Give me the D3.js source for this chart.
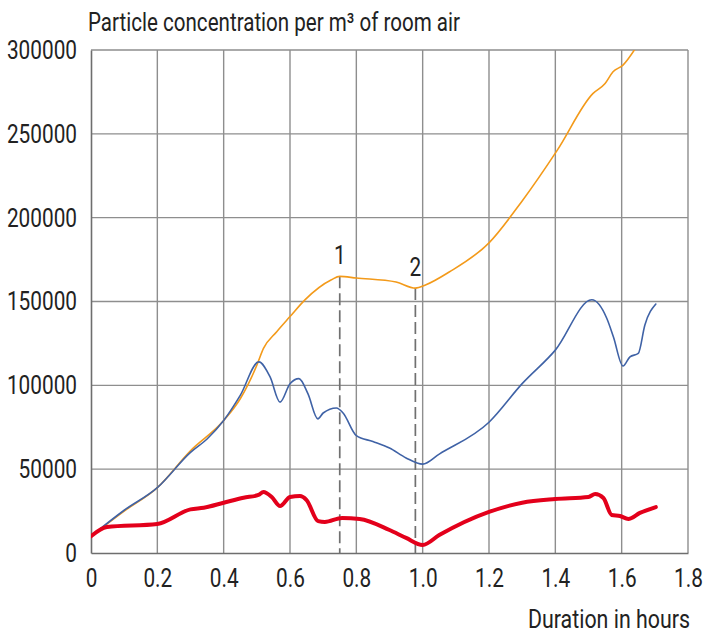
<!DOCTYPE html>
<html>
<head>
<meta charset="utf-8">
<script src="https://cdn.jsdelivr.net/npm/d3@7"></script>
<style>
  body { margin: 0; background: #fff; }
  svg text { font-family: Roboto, "Liberation Sans", sans-serif; fill: #222; }
</style>
</head>
<body>
<div id="chart"></div>
<script>
// Series: [hours, particles per m3]
const orangeSeries = [
  [0, 10000], [0.1, 25000], [0.2, 39000], [0.3, 61000], [0.4, 79000], [0.45, 92000],
  [0.5, 112000], [0.52, 122000], [0.56, 132000], [0.6, 141000], [0.645, 151000],
  [0.725, 163000], [0.75, 165000], [0.8, 164000], [0.92, 161600], [0.978, 158000],
  [1.01, 160000], [1.08, 167600], [1.2, 185000], [1.3, 210000], [1.405, 240000],
  [1.513, 274000], [1.55, 280000], [1.574, 287000], [1.604, 291000], [1.64, 300500]
];
const blueSeries = [
  [0, 10000], [0.1, 25500], [0.2, 39000], [0.3, 60000], [0.35, 68000], [0.4, 79000],
  [0.45, 94000], [0.506, 114000], [0.54, 105000], [0.57, 90000], [0.6, 101000],
  [0.627, 104000], [0.654, 95000], [0.684, 80000], [0.7, 83500], [0.74, 86500],
  [0.76, 83500], [0.8, 70000], [0.85, 66500], [0.9, 62600], [0.95, 56700], [1.0, 53000],
  [1.05, 59000], [1.2, 78000], [1.3, 101000], [1.4, 121000], [1.51, 151000],
  [1.555, 140000], [1.575, 129000], [1.604, 111500], [1.625, 117000], [1.65, 119000],
  [1.67, 136000], [1.703, 148500]
];
const redSeries = [
  [0, 10000], [0.048, 15500], [0.2, 17300], [0.3, 26000], [0.34, 27000], [0.4, 30000],
  [0.46, 33000], [0.505, 34600], [0.52, 36400], [0.545, 33400], [0.57, 28000],
  [0.6, 33400], [0.63, 34000], [0.65, 31600], [0.685, 19000], [0.705, 18500],
  [0.757, 20900], [0.81, 20300], [0.9, 13700], [0.95, 9000], [1.0, 4800],
  [1.05, 10700], [1.2, 24500], [1.3, 30000], [1.4, 32200], [1.5, 33400],
  [1.52, 35200], [1.545, 32800], [1.57, 22700], [1.595, 22100], [1.62, 20300],
  [1.655, 23900], [1.703, 27400]
];
const markers = [
  { label: "1", x: 0.75, y: 165000 },
  { label: "2", x: 0.978, y: 158000 }
];
const xTicks = [0, 0.2, 0.4, 0.6, 0.8, 1.0, 1.2, 1.4, 1.6, 1.8];
const yTicks = [0, 50000, 100000, 150000, 200000, 250000, 300000];
const yTitle = "Particle concentration per m³ of room air";
const xTitle = "Duration in hours";

const width = 705, height = 637;
const margin = { top: 50, right: 17, bottom: 84, left: 91 };
const squeeze = 0.8; // the source font is a condensed face

const svg = d3.select("#chart").append("svg")
  .attr("width", width)
  .attr("height", height);

const x = d3.scaleLinear().domain([0, 1.8]).range([margin.left, width - margin.right]);
const y = d3.scaleLinear().domain([0, 300000]).range([height - margin.bottom, margin.top]);

// grid
svg.append("g").selectAll("line.v")
  .data(xTicks.slice(1))
  .enter().append("line")
  .attr("x1", d => x(d)).attr("x2", d => x(d))
  .attr("y1", y(0)).attr("y2", y(300000))
  .attr("stroke", "#8e8e8e").attr("stroke-width", 1.4);

svg.append("g").selectAll("line.h")
  .data(yTicks.slice(1))
  .enter().append("line")
  .attr("x1", x(0)).attr("x2", x(1.8))
  .attr("y1", d => y(d)).attr("y2", d => y(d))
  .attr("stroke", "#8e8e8e").attr("stroke-width", 1.4);

// axes
const xAxis = svg.append("g")
  .attr("transform", "translate(0," + y(0) + ")")
  .call(d3.axisBottom(x).tickValues(xTicks).tickSize(0).tickPadding(16)
    .tickFormat(d => d === 0 ? "0" : d.toFixed(1)));
const yAxis = svg.append("g")
  .attr("transform", "translate(" + x(0) + ",0)")
  .call(d3.axisLeft(y).tickValues(yTicks).tickSize(0).tickPadding(14 / squeeze)
    .tickFormat(d3.format("d")));

[xAxis, yAxis].forEach(a => {
  a.select(".domain").attr("stroke", "#6e6e6e").attr("stroke-width", 1.6);
  a.selectAll("text")
    .style("font-size", "26px")
    .attr("fill", "#222")
    .attr("transform", "scale(" + squeeze + ",1)");
});

// clip to plot
svg.append("clipPath").attr("id", "plot")
  .append("rect")
  .attr("x", x(0)).attr("y", y(300000))
  .attr("width", x(1.8) - x(0)).attr("height", y(0) - y(300000));

// marker dashes
svg.append("g").selectAll("line.marker")
  .data(markers)
  .enter().append("line")
  .attr("x1", d => x(d.x)).attr("x2", d => x(d.x))
  .attr("y1", d => y(d.y)).attr("y2", y(0))
  .attr("stroke", "#707070").attr("stroke-width", 1.7)
  .attr("stroke-dasharray", "12,5");

svg.append("g").selectAll("text.marker")
  .data(markers)
  .enter().append("text")
  .attr("transform", d => "translate(" + x(d.x) + "," + (y(d.y) - 12) + ") scale(" + squeeze + ",1)")
  .attr("text-anchor", "middle")
  .style("font-size", "26px")
  .text(d => d.label);

const line = d3.line()
  .x(d => x(d[0]))
  .y(d => y(d[1]))
  .curve(d3.curveMonotoneX);

const series = [
  { data: orangeSeries, color: "#f39a1a", w: 1.6 },
  { data: blueSeries, color: "#3f62a6", w: 1.6 },
  { data: redSeries, color: "#e3001b", w: 4 }
];

svg.append("g").attr("clip-path", "url(#plot)")
  .selectAll("path")
  .data(series)
  .enter().append("path")
  .attr("d", d => line(d.data))
  .attr("fill", "none")
  .attr("stroke", d => d.color)
  .attr("stroke-width", d => d.w)
  .attr("stroke-linejoin", "round")
  .attr("stroke-linecap", "round");

// titles
svg.append("text")
  .attr("x", 88).attr("y", 31)
  .attr("textLength", 372)
  .attr("lengthAdjust", "spacingAndGlyphs")
  .style("font-size", "25px")
  .text(yTitle);

svg.append("text")
  .attr("x", 528).attr("y", 628)
  .attr("textLength", 162)
  .attr("lengthAdjust", "spacingAndGlyphs")
  .style("font-size", "25px")
  .text(xTitle);
</script>
</body>
</html>
